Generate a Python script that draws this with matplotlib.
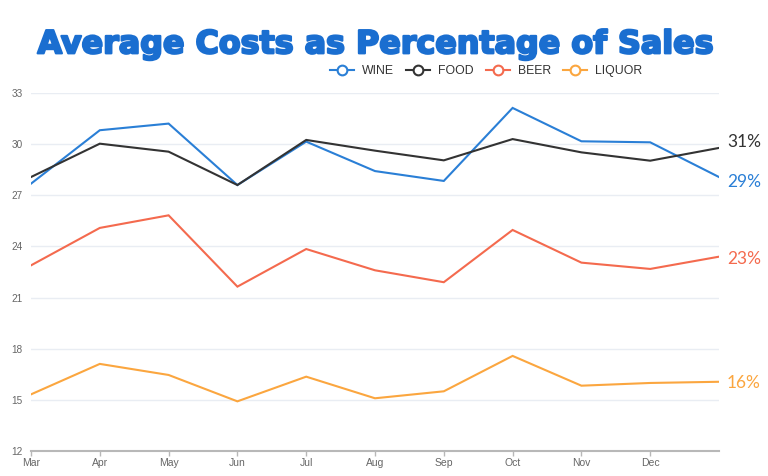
import matplotlib
matplotlib.use("Agg")
import matplotlib.pyplot as plt
import matplotlib.patheffects as pe
from matplotlib.lines import Line2D

months = ["Mar", "Apr", "May", "Jun", "Jul", "Aug", "Sep", "Oct", "Nov", "Dec", ""]
wine = [27.69, 30.83, 31.22, 27.61, 30.16, 28.43, 27.85, 32.14, 30.18, 30.12, 28.08]
food = [28.08, 30.04, 29.57, 27.61, 30.26, 29.63, 29.06, 30.31, 29.53, 29.04, 29.79]
beer = [22.89, 25.09, 25.83, 21.64, 23.85, 22.60, 21.90, 24.97, 23.05, 22.68, 23.40]
liquor = [15.31, 17.10, 16.45, 14.90, 16.35, 15.08, 15.49, 17.57, 15.82, 15.98, 16.05]
series_names = ["WINE", "FOOD", "BEER", "LIQUOR"]
end_labels = ["29%", "31%", "23%", "16%"]
yticks = [12, 15, 18, 21, 24, 27, 30, 33]

colors = ["#2a7fd6", "#333333", "#f46a4e", "#fba63f"]
label_offsets = [-3.4, 4.5, -1.9, -1.1]  # points, vertical offset of end labels

fig = plt.figure(figsize=(7.68, 4.76), dpi=100)
ax = fig.add_axes([31 / 768, 1 - 450.7 / 476, (719 - 31) / 768, (450.7 - 93.3) / 476])

x = list(range(len(months)))
all_series = [wine, food, beer, liquor]
for vals, c in zip(all_series, colors):
    ax.plot(x, vals, color=c, lw=1.5, solid_joinstyle="miter", zorder=3)

ax.set_xlim(0, len(months) - 1)
ax.set_ylim(12, 33)
ax.set_yticks(yticks)
ax.set_yticklabels([str(t) for t in yticks])
ax.set_xticks(x[:-1])
ax.set_xticklabels(months[:-1])
ax.grid(axis="y", color="#e9edf3", lw=1.0, zorder=0)
ax.set_axisbelow(True)
for s in ["top", "right", "left"]:
    ax.spines[s].set_visible(False)
ax.spines["bottom"].set_color("#b8b8b8")
ax.spines["bottom"].set_linewidth(1.5)
ax.spines["bottom"].set_zorder(4)
ax.tick_params(axis="y", length=0, pad=6, labelsize=7.2, labelcolor="#666666")
ax.tick_params(axis="x", length=3.5, width=1, color="#b8b8b8", pad=2,
               labelsize=7.5, labelcolor="#666666")
for lab in ax.get_xticklabels() + ax.get_yticklabels():
    lab.set_family(["Liberation Sans", "DejaVu Sans"])

# End labels
for vals, c, lab, off in zip(all_series, colors, end_labels, label_offsets):
    ax.annotate(lab, xy=(x[-1], vals[-1]), xytext=(5.8, off), textcoords="offset points",
                ha="left", va="center", color=c, fontsize=12.5,
                family=["Lato", "DejaVu Sans"], annotation_clip=False)

# Title, fitted to width
title_color = "#1a6ed0"
title = fig.text(37.5 / 768, 1 - 53.3 / 476, "Average Costs as Percentage of Sales",
                 ha="left", va="baseline", color=title_color, fontsize=22,
                 family=["DejaVu Sans"], fontweight="bold")
fig.canvas.draw()
r = fig.canvas.get_renderer()
w = title.get_window_extent(r).width
title.set_fontsize(22 * 674 / w)
title.set_path_effects([pe.withStroke(linewidth=1.6, foreground=title_color)])

# Legend
handles = [Line2D([0], [0], color=c, lw=1.5, marker="o", markersize=7,
                  markerfacecolor="white", markeredgecolor=c, markeredgewidth=1.5)
           for c in colors]
leg = fig.legend(handles, series_names, loc="center", bbox_to_anchor=(486 / 768, 1 - 71.3 / 476),
                 ncol=4, frameon=False, handlelength=2.0, handletextpad=0.64,
                 columnspacing=0.96, prop={"family": ["Liberation Sans", "DejaVu Sans"], "size": 8.8})
for t in leg.get_texts():
    t.set_color("#333333")

fig.savefig("out.png", dpi=100, facecolor="white")
